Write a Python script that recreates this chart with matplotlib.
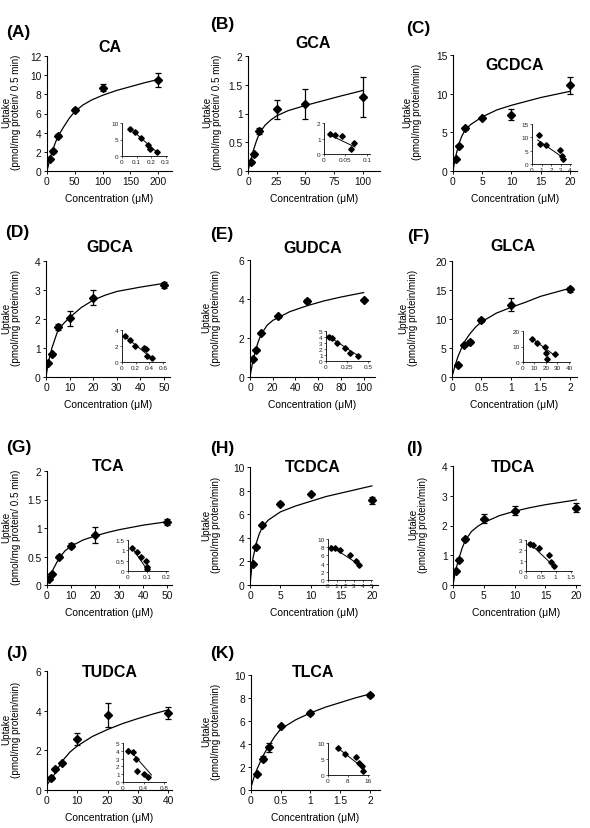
import numpy as np
import matplotlib
matplotlib.use("Agg")
import matplotlib.pyplot as plt
from matplotlib.ticker import FuncFormatter

plt.rcParams['font.family'] = ['Liberation Sans', 'DejaVu Sans']

W, H = 590, 829

# ---- data ----
names = ['CA', 'GCA', 'GCDCA', 'GDCA', 'GUDCA', 'GLCA',
         'TCA', 'TCDCA', 'TDCA', 'TUDCA', 'TLCA']
letters = ['(A)', '(B)', '(C)', '(D)', '(E)', '(F)',
           '(G)', '(H)', '(I)', '(J)', '(K)']
units = ['(pmol/mg protein/ 0.5 min)', '(pmol/mg protein/ 0.5 min)',
         '(pmol/mg protein/min)', '(pmol/mg protein/min)',
         '(pmol/mg protein/min)', '(pmol/mg protein/min)',
         '(pmol/mg protein/ 0.5 min)', '(pmol/mg protein/min)',
         '(pmol/mg protein/min)', '(pmol/mg protein/min)',
         '(pmol/mg protein/min)']

# concentration (uM), uptake, error
conc = [
    [5, 10, 20, 50, 100, 200],
    [2.5, 5, 10, 25, 50, 100],
    [0.5, 1, 2, 5, 10, 20],
    [1, 2.5, 5, 10, 20, 50],
    [2.5, 5, 10, 25, 50, 100],
    [0.1, 0.2, 0.3, 0.5, 1, 2],
    [1, 2, 5, 10, 20, 50],
    [0.5, 1, 2, 5, 10, 20],
    [0.5, 1, 2, 5, 10, 20],
    [1.25, 2.5, 5, 10, 20, 40],
    [0.1, 0.2, 0.3, 0.5, 1, 2],
]
uptake = [
    [1.3, 2.05, 3.7, 6.4, 8.7, 9.5],
    [0.15, 0.29, 0.69, 1.07, 1.17, 1.29],
    [1.6, 3.2, 5.5, 6.9, 7.3, 11.1],
    [0.47, 0.78, 1.73, 2.02, 2.74, 3.16],
    [0.94, 1.39, 2.26, 3.12, 3.88, 3.96],
    [2.1, 5.5, 6.1, 9.8, 12.5, 15.1],
    [0.1, 0.19, 0.5, 0.69, 0.87, 1.11],
    [1.8, 3.2, 5.1, 6.9, 7.7, 7.2],
    [0.47, 0.85, 1.54, 2.22, 2.5, 2.6],
    [0.62, 1.05, 1.35, 2.57, 3.78, 3.87],
    [1.42, 2.73, 3.7, 5.55, 6.69, 8.28],
]
errs = [
    [0.1, 0.15, 0.15, 0.15, 0.4, 0.7],
    [0.02, 0.03, 0.05, 0.16, 0.26, 0.35],
    [0.1, 0.1, 0.15, 0.1, 0.7, 1.1],
    [0.03, 0.05, 0.1, 0.25, 0.25, 0.1],
    [0.05, 0.05, 0.05, 0.08, 0.1, 0.05],
    [0.2, 0.2, 0.2, 0.3, 1.2, 0.5],
    [0.01, 0.02, 0.02, 0.04, 0.14, 0.05],
    [0.1, 0.1, 0.1, 0.15, 0.1, 0.3],
    [0.03, 0.05, 0.05, 0.15, 0.15, 0.15],
    [0.1, 0.05, 0.05, 0.3, 0.6, 0.3],
    [0.1, 0.2, 0.4, 0.1, 0.2, 0.15],
]

# fitted curves, points
curve_x = [
    [0, 1, 2.5, 5, 7.5, 10, 15, 20, 30, 40, 50, 65, 80, 100, 125, 150, 175, 200],
    [0, 1, 2.5, 5, 7.5, 10, 15, 20, 25, 35, 50, 65, 80, 100],
    [0, 0.25, 0.5, 1, 1.5, 2, 3, 4, 5, 7.5, 10, 12.5, 15, 17.5, 20],
    [0, 0.5, 1, 2.5, 5, 7.5, 10, 15, 20, 25, 30, 40, 50],
    [0, 1, 2.5, 5, 7.5, 10, 15, 20, 25, 35, 50, 65, 80, 100],
    [0, 0.05, 0.1, 0.2, 0.3, 0.4, 0.5, 0.75, 1, 1.25, 1.5, 1.75, 2],
    [0, 1, 2, 3.5, 5, 7.5, 10, 15, 20, 25, 30, 40, 50],
    [0, 0.25, 0.5, 1, 1.5, 2, 3, 4, 5, 7.5, 10, 12.5, 15, 17.5, 20],
    [0, 0.25, 0.5, 1, 1.5, 2, 3, 4, 5, 7.5, 10, 12.5, 15, 17.5, 20],
    [0, 1.25, 2.5, 5, 7.5, 10, 15, 20, 25, 30, 35, 40],
    [0, 0.05, 0.1, 0.2, 0.3, 0.4, 0.5, 0.75, 1, 1.25, 1.5, 1.75, 2],
]
curve_y = [
    [0, 0.25, 0.6, 1.2, 1.7, 2.15, 2.95, 3.65, 4.6, 5.5, 6.2, 6.9, 7.4, 7.9, 8.4, 8.8, 9.2, 9.55],
    [0, 0.08, 0.2, 0.38, 0.53, 0.66, 0.8, 0.89, 0.96, 1.05, 1.14, 1.22, 1.3, 1.4],
    [0, 1.1, 2.0, 3.5, 4.5, 5.2, 6.0, 6.5, 7.0, 7.9, 8.5, 9.0, 9.5, 9.9, 10.3],
    [0, 0.27, 0.5, 1.0, 1.6, 1.85, 2.05, 2.4, 2.65, 2.82, 2.95, 3.1, 3.23],
    [0, 0.35, 0.8, 1.4, 1.85, 2.2, 2.65, 2.9, 3.05, 3.35, 3.65, 3.9, 4.1, 4.33],
    [0, 1.9, 3.5, 5.9, 7.4, 8.6, 9.5, 11.0, 12.0, 12.9, 13.9, 14.6, 15.3],
    [0, 0.12, 0.23, 0.35, 0.47, 0.6, 0.68, 0.79, 0.86, 0.92, 0.97, 1.05, 1.11],
    [0, 1.3, 2.3, 3.5, 4.3, 4.9, 5.5, 5.85, 6.2, 6.7, 7.1, 7.5, 7.8, 8.1, 8.4],
    [0, 0.3, 0.55, 0.92, 1.25, 1.5, 1.8, 1.97, 2.1, 2.33, 2.48, 2.6, 2.7, 2.78, 2.86],
    [0.25, 0.55, 0.8, 1.45, 1.9, 2.22, 2.7, 3.05, 3.35, 3.6, 3.83, 4.04],
    [0.25, 1.1, 1.8, 2.95, 3.85, 4.65, 5.3, 6.1, 6.7, 7.2, 7.6, 8.0, 8.35],
]

# Eadie-Hofstee insets (V/S, V) and regression line ends
inset_x = [
    [0.055, 0.09, 0.129, 0.178, 0.196, 0.24],
    [0.014, 0.025, 0.042, 0.0625, 0.07],
    [0.7, 0.85, 1.45, 2.9, 3.2, 3.25],
    [0.05, 0.12, 0.19, 0.32, 0.35, 0.37, 0.44],
    [0.03, 0.075, 0.128, 0.23, 0.28, 0.375],
    [8, 12.5, 19.5, 20, 20.5, 27.5],
    [0.022, 0.045, 0.069, 0.095, 0.098, 0.1],
    [0.36, 0.77, 1.38, 2.55, 3.2, 3.6],
    [0.13, 0.25, 0.44, 0.76, 0.84, 0.94],
    [0.1, 0.19, 0.26, 0.27, 0.41, 0.49],
    [4.1, 6.7, 11.2, 12.3, 13.7, 14.1],
]
inset_y = [
    [8.2, 7.4, 5.4, 3.2, 2.0, 1.25],
    [1.28, 1.2, 1.13, 0.3, 0.7],
    [11.0, 7.6, 7.0, 5.2, 3.0, 1.7],
    [3.2, 2.77, 2.04, 1.7, 1.65, 0.8, 0.5],
    [4.0, 3.9, 3.05, 2.2, 1.3, 0.85],
    [15, 12.5, 9.7, 6.0, 1.8, 5.0],
    [1.1, 0.9, 0.69, 0.5, 0.19, 0.1],
    [7.7, 7.9, 7.3, 6.0, 4.7, 3.7],
    [2.59, 2.48, 2.22, 1.54, 0.85, 0.47],
    [3.95, 3.85, 2.9, 1.35, 1.05, 0.7],
    [8.3, 6.7, 5.6, 3.7, 2.7, 1.4],
]
line_x = [[0.05, 0.25], [0.012, 0.072], [0.6, 3.3], [0.03, 0.46], [0.02, 0.4],
          [8, 28], [0.02, 0.105], [0.3, 3.7], [0.1, 1.0], [0.1, 0.55], [4, 14.5]]
line_y = [[8.6, 0.8], [1.25, 0.45], [9.0, 2.3], [3.3, 0.3], [4.2, 0.7],
          [15, 4.0], [1.15, 0.0], [8.3, 3.6], [2.75, 0.3], [4.3, 0.9], [8.4, 2.0]]

# axis settings
xlims = [225, 115, 21.2, 52.5, 110, 2.12, 52, 21, 20.6, 41.3, 2.17]
xticks = [[0, 50, 100, 150, 200], [0, 25, 50, 75, 100], [0, 5, 10, 15, 20],
          [0, 10, 20, 30, 40, 50], [0, 20, 40, 60, 80, 100], [0, 0.5, 1, 1.5, 2],
          [0, 10, 20, 30, 40, 50], [0, 5, 10, 15, 20], [0, 5, 10, 15, 20],
          [0, 10, 20, 30, 40], [0, 0.5, 1, 1.5, 2]]
yticks = [[0, 2, 4, 6, 8, 10, 12], [0, 0.5, 1, 1.5, 2], [0, 5, 10, 15],
          [0, 1, 2, 3, 4], [0, 2, 4, 6], [0, 5, 10, 15, 20],
          [0, 0.5, 1, 1.5, 2], [0, 2, 4, 6, 8, 10], [0, 1, 2, 3, 4],
          [0, 2, 4, 6], [0, 2, 4, 6, 8, 10]]
in_xlims = [0.31, 0.107, 4.1, 0.63, 0.52, 40.9, 0.21, 5.1, 1.55, 0.83, 16.5]
in_xticks = [[0, 0.1, 0.2, 0.3], [0, 0.05, 0.1], [0, 1, 2, 3, 4],
             [0, 0.2, 0.4, 0.6], [0, 0.25, 0.5], [0, 10, 20, 30, 40],
             [0, 0.1, 0.2], [0, 1, 2, 3, 4, 5], [0, 0.5, 1, 1.5],
             [0, 0.4, 0.8], [0, 8, 16]]
in_yticks = [[0, 5, 10], [0, 1, 2], [0, 5, 10, 15], [0, 2, 4], [0, 1, 2, 3, 4, 5],
             [0, 10, 20], [0, 0.5, 1, 1.5], [0, 2, 4, 6, 8, 10], [0, 1, 2, 3],
             [0, 1, 2, 3, 4, 5], [0, 5, 10]]

# pixel boxes: left, top, right, bottom
main_box = [(47, 57, 172, 172), (248, 57, 380, 172), (453, 56, 577, 172),
            (46, 262, 170, 378), (250, 261, 375, 378), (452, 262, 577, 378),
            (47, 472, 172, 586), (250, 468, 378, 586), (453, 467, 580, 586),
            (47, 672, 172, 791), (251, 676, 380, 791)]
inset_box = [(122, 124, 167, 157), (324, 124, 370, 155), (532, 125, 571, 165),
             (122, 331, 165, 363), (326, 332, 370, 362), (523, 332, 570, 363),
             (128, 541, 168, 572), (328, 540, 372, 581), (526, 541, 572, 572),
             (123, 744, 166, 783), (328, 744, 369, 776)]
title_pos = [(110, 47), (313, 43), (515, 65), (110, 248), (313, 249), (513, 247),
             (108, 467), (313, 468), (513, 468), (110, 673), (313, 673)]
letter_pos = [(6, 32), (210, 24), (406, 29), (5, 233), (210, 235), (407, 236),
              (6, 448), (210, 449), (406, 449), (6, 654), (210, 654)]
ylab_x = [11, 212, 412, 11, 211, 408, 11, 211, 418, 11, 211]

fmt = FuncFormatter(lambda v, p: '{:g}'.format(v))


def rect(b):
    l, t, r, bt = b
    return [l / W, 1 - bt / H, (r - l) / W, (bt - t) / H]


fig = plt.figure(figsize=(W / 100, H / 100), dpi=100)

for i in range(len(names)):
    ax = fig.add_axes(rect(main_box[i]))
    ax.errorbar(conc[i], uptake[i], yerr=errs[i], fmt='D', color='black',
                ms=4.2, elinewidth=0.9, capsize=2, capthick=0.9, zorder=3)
    ax.plot(curve_x[i], curve_y[i], color='black', lw=0.9)
    ax.set_xlim(0, xlims[i])
    ax.set_ylim(0, yticks[i][-1])
    ax.set_xticks(xticks[i])
    ax.set_yticks(yticks[i])
    ax.xaxis.set_major_formatter(fmt)
    ax.yaxis.set_major_formatter(fmt)
    ax.tick_params(labelsize=7.4, length=2.4, width=0.7, pad=1.5, colors='#111111')
    for s in ['top', 'right']:
        ax.spines[s].set_visible(False)
    for s in ['left', 'bottom']:
        ax.spines[s].set_linewidth(0.8)
    l, t, r, bt = main_box[i]
    fig.text(((l + r) / 2) / W, 1 - (bt + 27) / H, 'Concentration (\u03bcM)',
             ha='center', va='center', fontsize=7.4)
    fig.text(ylab_x[i] / W, 1 - ((t + bt) / 2 - 2) / H, 'Uptake\n' + units[i],
             rotation=90, ha='center', va='center', fontsize=7.1,
             linespacing=1.05, multialignment='center')
    fig.text(title_pos[i][0] / W, 1 - title_pos[i][1] / H, names[i],
             ha='center', va='center', fontsize=11.5, fontweight='bold')
    fig.text(letter_pos[i][0] / W, 1 - letter_pos[i][1] / H, letters[i],
             ha='left', va='center', fontsize=12.5, fontweight='bold')

    ins = fig.add_axes(rect(inset_box[i]))
    ins.plot(inset_x[i], inset_y[i], 'D', color='black', ms=2.8)
    ins.plot(line_x[i], line_y[i], color='black', lw=0.7)
    ins.set_xlim(0, in_xlims[i])
    ins.set_ylim(0, in_yticks[i][-1])
    ins.set_xticks(in_xticks[i])
    ins.set_yticks(in_yticks[i])
    ins.xaxis.set_major_formatter(fmt)
    ins.yaxis.set_major_formatter(fmt)
    ins.tick_params(labelsize=4.6, length=1.4, width=0.5, pad=1, colors='#222222')
    for s in ['top', 'right']:
        ins.spines[s].set_visible(False)
    for s in ['left', 'bottom']:
        ins.spines[s].set_linewidth(0.6)
    ins.patch.set_alpha(0)

fig.savefig('out.png', dpi=100)
